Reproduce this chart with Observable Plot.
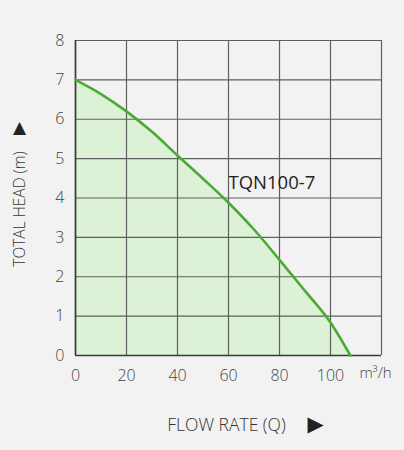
<!DOCTYPE html>
<html>
<head>
<meta charset="utf-8">
<script src="https://cdn.jsdelivr.net/npm/d3@7"></script>
<script src="https://cdn.jsdelivr.net/npm/@observablehq/plot@0.6"></script>
<style>
  html, body { margin: 0; padding: 0; background: #f2f2f2; }
  #chart svg { display: block; }
</style>
</head>
<body>
<div id="chart"></div>
<script>
const flow = [0, 10, 20, 30, 40, 50, 60, 70, 80, 90, 100, 107.8];
const head = [7, 6.64, 6.2, 5.68, 5.08, 4.49, 3.88, 3.2, 2.43, 1.64, 0.84, 0];
const xTicks = [0, 20, 40, 60, 80, 100];
const yTicks = [0, 1, 2, 3, 4, 5, 6, 7, 8];
const modelName = "TQN100-7";
const xUnit = "m³/h";
const xTitle = "FLOW RATE (Q)";
const yTitle = "TOTAL HEAD (m)";

const data = flow.map((f, i) => ({flow: f, head: head[i]}));
const font = "'Open Sans', 'Noto Sans', sans-serif";

const chart = Plot.plot({
  width: 404,
  height: 450,
  marginLeft: 75,
  marginRight: 23,
  marginTop: 40,
  marginBottom: 95,
  style: {background: "#f2f2f2", fontFamily: font, fontSize: "16px", color: "#444"},
  x: {domain: [0, 120], ticks: xTicks, label: null},
  y: {domain: [0, 8], ticks: yTicks, label: null},
  marks: [
    Plot.areaY(data, {x: "flow", y: "head", fill: "#ddf1d7", curve: "monotone-x"}),
    Plot.gridX([0, 20, 40, 60, 80, 100, 120], {stroke: "#5f5f5f", strokeOpacity: 1, strokeWidth: 1.2}),
    Plot.gridY(yTicks, {stroke: "#5f5f5f", strokeOpacity: 1, strokeWidth: 1.2}),
    Plot.ruleX([0], {stroke: "#3a3a3a", strokeWidth: 1.6}),
    Plot.ruleY([0], {stroke: "#3a3a3a", strokeWidth: 1.6}),
    Plot.line(data, {x: "flow", y: "head", stroke: "#4aab34", strokeWidth: 2.6, curve: "monotone-x"}),
    Plot.axisX(xTicks, {tickSize: 0, tickPadding: 14, fontSize: 16, fill: "#444", fontWeight: 300}),
    Plot.axisY(yTicks, {tickSize: 0, tickPadding: 11, fontSize: 16, fill: "#444", textAnchor: "end", fontWeight: 300}),
    Plot.text([modelName], {x: 60, y: 4.3, text: d => d, textAnchor: "start", fontSize: 18.5, fill: "#222", dx: 0, dy: -3}),
    Plot.text([xUnit], {frameAnchor: "bottom-right", text: d => d, textAnchor: "middle", dx: -6, dy: 22, fontSize: 15, fill: "#444", fontWeight: 300}),
    Plot.text([xTitle], {frameAnchor: "bottom", text: d => d, textAnchor: "middle", dx: -2, dy: 75, fontSize: 17.5, fill: "#333", fontWeight: 300}),
    Plot.text(["▶"], {frameAnchor: "bottom", text: d => d, textAnchor: "middle", dx: 87, dy: 75, fontSize: 21, fill: "#222", fontFamily: "DejaVu Sans"}),
    Plot.text([yTitle], {frameAnchor: "left", text: d => d, rotate: -90, textAnchor: "middle", dx: -55, dy: 11, fontSize: 15.5, fill: "#333", fontWeight: 300, letterSpacing: "-0.3px"}),
    Plot.text(["▲"], {frameAnchor: "left", text: d => d, textAnchor: "middle", dx: -56, dy: -70, fontSize: 17, fill: "#222", fontFamily: "DejaVu Sans"})
  ]
});
document.getElementById("chart").appendChild(chart);
</script>
</body>
</html>
